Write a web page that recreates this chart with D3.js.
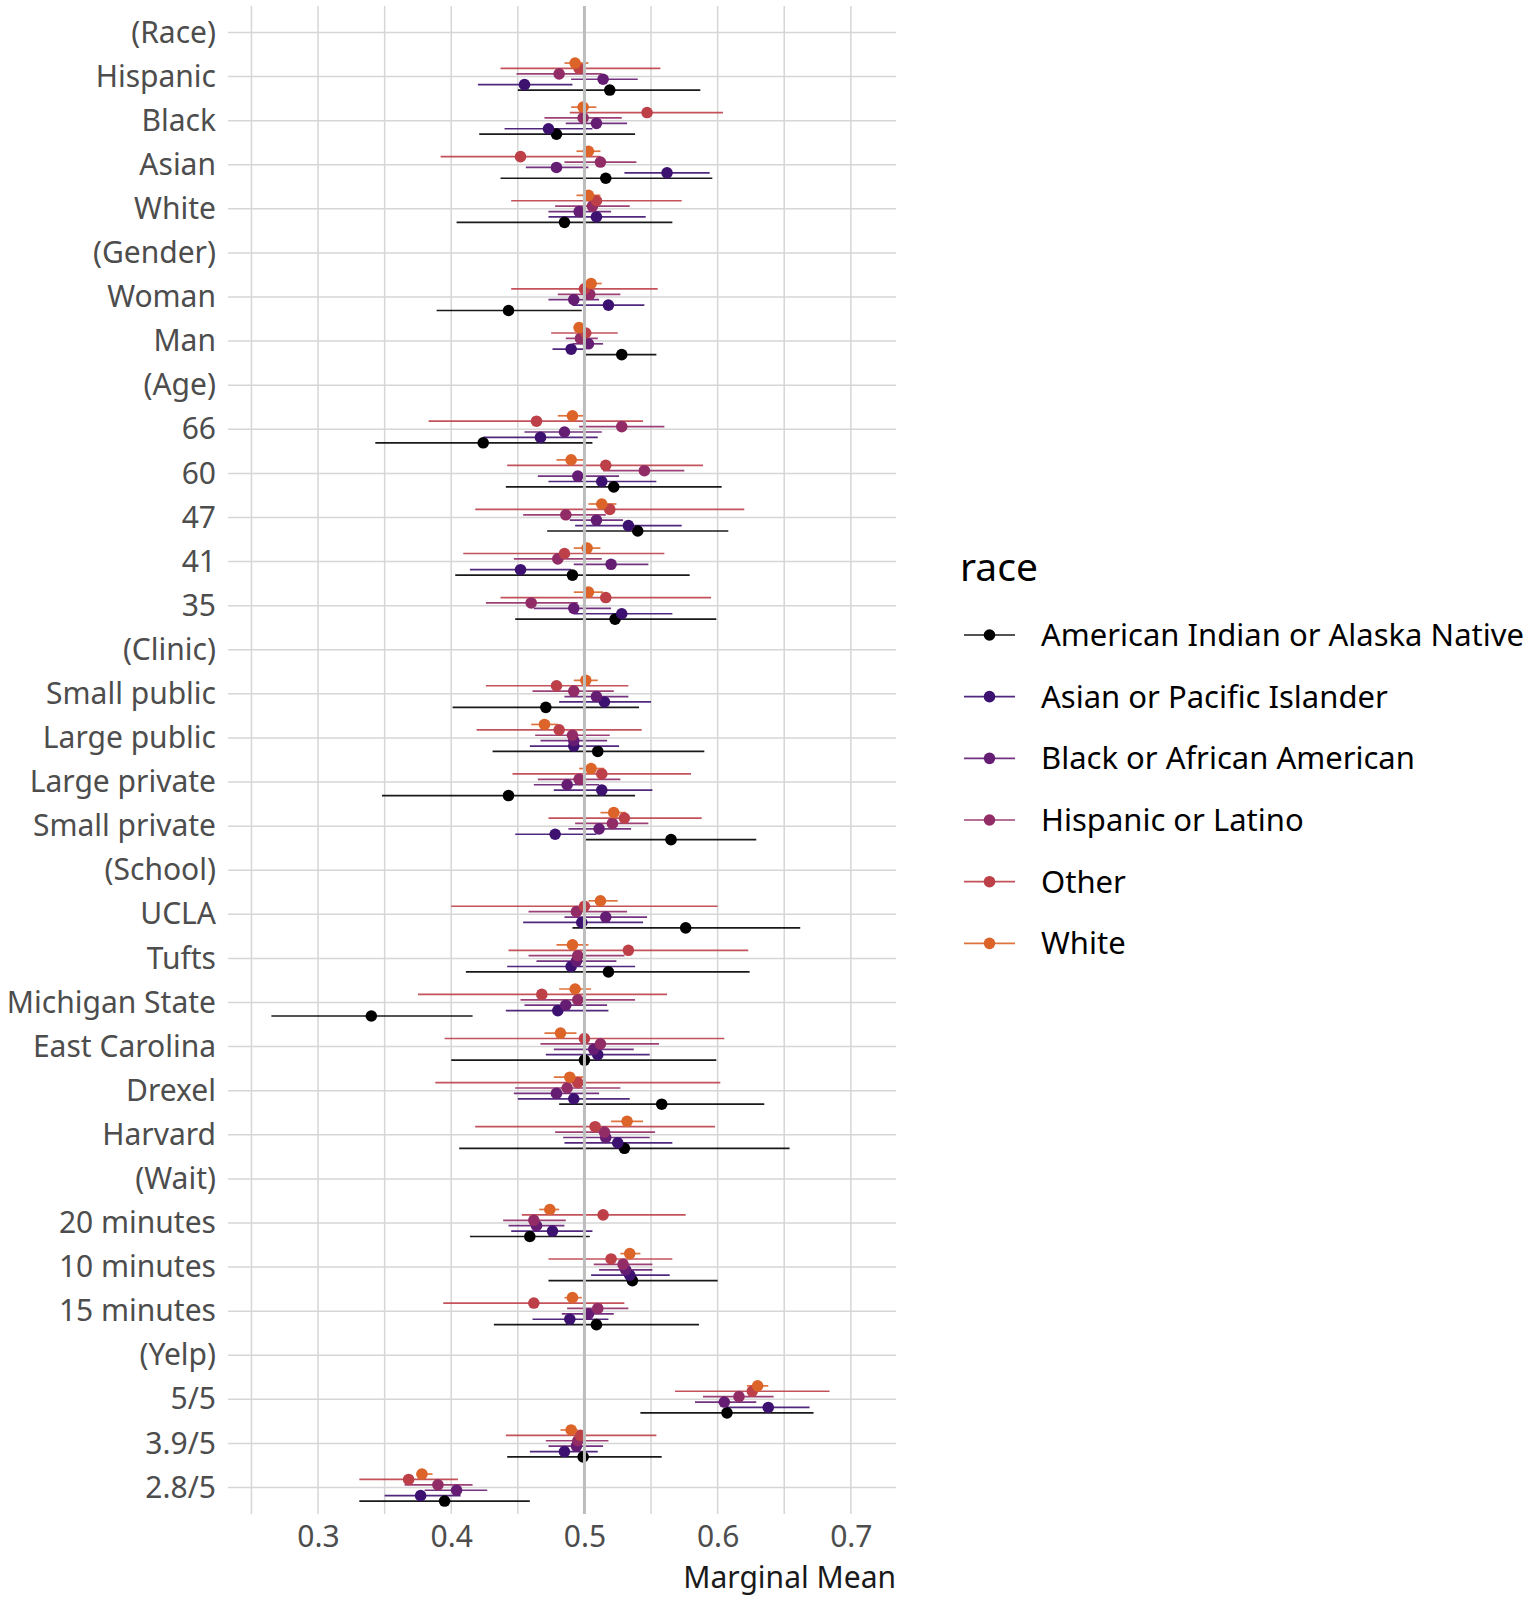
<!DOCTYPE html>
<html>
<head>
<meta charset="utf-8">
<script src="https://cdn.jsdelivr.net/npm/d3@7"></script>
<style>
  body { margin: 0; background: #fff; }
  text { font-family: "Noto Sans", sans-serif; }
</style>
</head>
<body>
<script>
// attribute levels, top to bottom
const levels = ["(Race)", "Hispanic", "Black", "Asian", "White", "(Gender)", "Woman", "Man",
  "(Age)", "66", "60", "47", "41", "35", "(Clinic)", "Small public", "Large public",
  "Large private", "Small private", "(School)", "UCLA", "Tufts", "Michigan State",
  "East Carolina", "Drexel", "Harvard", "(Wait)", "20 minutes", "10 minutes", "15 minutes",
  "(Yelp)", "5/5", "3.9/5", "2.8/5"];

const races = ["American Indian or Alaska Native", "Asian or Pacific Islander",
  "Black or African American", "Hispanic or Latino", "Other", "White"];
const raceColors = ["#000000", "#3d1170", "#641d72", "#912c66", "#bd4049", "#dc6429"];

const xTicks = [0.3, 0.4, 0.5, 0.6, 0.7];
const xGrid = [0.25, 0.3, 0.35, 0.4, 0.45, 0.5, 0.55, 0.6, 0.65, 0.7];

// marginal means and 95% intervals per race, in the order of `levels`
const aianEst = [null,.519,.479,.516,.485,null,.443,.528,null,.424,.522,.540,.491,.523,null,.471,.510,.443,.565,null,.576,.518,.340,.500,.558,.530,null,.459,.536,.509,null,.607,.499,.395];
const aianLo  = [null,.450,.421,.437,.404,null,.389,.501,null,.343,.441,.472,.403,.448,null,.401,.431,.348,.501,null,.491,.411,.265,.400,.481,.406,null,.414,.473,.432,null,.542,.442,.331];
const aianHi  = [null,.587,.538,.596,.566,null,.498,.554,null,.506,.603,.608,.579,.599,null,.541,.590,.538,.629,null,.662,.624,.416,.599,.635,.654,null,.504,.600,.586,null,.672,.558,.459];

const asianEst = [null,.455,.473,.562,.509,null,.518,.490,null,.467,.513,.533,.452,.528,null,.515,.492,.513,.478,null,.498,.490,.480,.510,.492,.525,null,.476,.534,.489,null,.638,.485,.377];
const asianLo  = [null,.420,.440,.530,.473,null,.491,.476,null,.424,.473,.493,.414,.492,null,.481,.459,.477,.448,null,.454,.442,.441,.471,.450,.485,null,.445,.505,.461,null,.606,.459,.350];
const asianHi  = [null,.491,.506,.594,.546,null,.545,.501,null,.510,.554,.573,.490,.566,null,.550,.526,.551,.509,null,.544,.538,.518,.549,.534,.566,null,.506,.564,.518,null,.669,.510,.407];

const blackEst = [null,.514,.509,.479,.496,null,.492,.503,null,.485,.495,.509,.520,.492,null,.509,.492,.487,.511,null,.516,.494,.486,.507,.479,.516,null,.464,.531,.503,null,.605,.494,.404];
const blackLo  = [null,.490,.486,.456,.473,null,.473,.491,null,.455,.465,.489,.492,.462,null,.485,.467,.462,.488,null,.485,.464,.455,.477,.447,.484,null,.443,.511,.483,null,.583,.473,.380];
const blackHi  = [null,.540,.532,.503,.520,null,.511,.514,null,.513,.526,.529,.548,.520,null,.533,.517,.511,.535,null,.547,.524,.517,.537,.511,.549,null,.485,.551,.522,null,.629,.514,.427];

const hispEst = [null,.481,.499,.512,.506,null,.504,.497,null,.528,.545,.486,.480,.460,null,.492,.491,.496,.521,null,.494,.495,.495,.512,.487,.515,null,.462,.529,.510,null,.616,.495,.390];
const hispLo  = [null,.449,.470,.485,.478,null,.480,.486,null,.496,.514,.454,.447,.426,null,.461,.463,.465,.493,null,.458,.458,.452,.467,.448,.478,null,.439,.507,.487,null,.589,.471,.365];
const hispHi  = [null,.513,.528,.539,.534,null,.527,.510,null,.560,.575,.516,.513,.495,null,.522,.519,.527,.548,null,.532,.530,.538,.556,.527,.553,null,.486,.551,.533,null,.642,.518,.416];

const otherEst = [null,.496,.547,.452,.509,null,.500,.501,null,.464,.516,.519,.485,.516,null,.479,.481,.513,.530,null,.500,.533,.468,.500,.495,.508,null,.514,.520,.462,null,.626,.497,.368];
const otherLo  = [null,.437,.489,.392,.445,null,.445,.475,null,.383,.442,.418,.409,.437,null,.426,.419,.446,.473,null,.400,.443,.375,.395,.388,.418,null,.453,.473,.394,null,.568,.441,.331];
const otherHi  = [null,.557,.604,.512,.573,null,.555,.525,null,.544,.589,.620,.560,.595,null,.533,.543,.580,.588,null,.600,.623,.562,.605,.602,.598,null,.576,.566,.530,null,.684,.554,.405];

const whiteEst = [null,.493,.499,.503,.503,null,.505,.496,null,.491,.490,.513,.502,.503,null,.501,.470,.505,.522,null,.512,.491,.493,.482,.489,.532,null,.474,.534,.491,null,.630,.490,.378];
const whiteLo  = [null,.485,.490,.494,.494,null,.499,.492,null,.480,.479,.503,.492,.492,null,.492,.460,.496,.512,null,.503,.479,.481,.470,.477,.520,null,.466,.527,.485,null,.622,.482,.374];
const whiteHi  = [null,.503,.509,.512,.512,null,.513,.500,null,.501,.501,.524,.512,.514,null,.510,.480,.515,.531,null,.525,.503,.505,.494,.501,.544,null,.481,.542,.498,null,.638,.495,.386];

const seriesEst = [aianEst, asianEst, blackEst, hispEst, otherEst, whiteEst];
const seriesLo = [aianLo, asianLo, blackLo, hispLo, otherLo, whiteLo];
const seriesHi = [aianHi, asianHi, blackHi, hispHi, otherHi, whiteHi];

// flatten into one record per point
var points = [];
for (var r = 0; r < races.length; r++) {
  for (var i = 0; i < levels.length; i++) {
    if (seriesEst[r][i] == null) continue;
    points.push({race: races[r], level: levels[i], est: seriesEst[r][i],
                 lo: seriesLo[r][i], hi: seriesHi[r][i]});
  }
}

const W = 1536, H = 1600;
const panel = {left: 228, right: 896, top: 6, bottom: 1514};
const dotR = 5.8;

const svg = d3.select("body").append("svg")
  .attr("width", W).attr("height", H);

const x = d3.scaleLinear().domain([0.2324, 0.7339]).range([panel.left, panel.right]);
const y = d3.scalePoint().domain(levels).range([panel.top, panel.bottom]).padding(0.6);
const dodge = d3.scalePoint().domain(races).range([13.5, -13.5]);
const color = d3.scaleOrdinal().domain(races).range(raceColors);

// grid
svg.append("g").selectAll("line")
  .data(xGrid).enter().append("line")
  .attr("x1", d => x(d)).attr("x2", d => x(d))
  .attr("y1", panel.top).attr("y2", panel.bottom)
  .attr("stroke", "#d6d6d6").attr("stroke-width", 1.5);
svg.append("g").selectAll("line")
  .data(levels).enter().append("line")
  .attr("x1", panel.left).attr("x2", panel.right)
  .attr("y1", d => y(d)).attr("y2", d => y(d))
  .attr("stroke", "#d6d6d6").attr("stroke-width", 1.5);

// intervals then points
svg.append("g").selectAll("line")
  .data(points).enter().append("line")
  .attr("x1", d => x(d.lo)).attr("x2", d => x(d.hi))
  .attr("y1", d => y(d.level) + dodge(d.race))
  .attr("y2", d => y(d.level) + dodge(d.race))
  .attr("stroke", d => color(d.race))
  .attr("stroke-opacity", 0.9)
  .attr("stroke-width", 1.7);
svg.append("g").selectAll("circle")
  .data(points).enter().append("circle")
  .attr("cx", d => x(d.est))
  .attr("cy", d => y(d.level) + dodge(d.race))
  .attr("r", dotR)
  .attr("fill", d => color(d.race));

// reference line at 0.5
svg.append("line")
  .attr("x1", x(0.5)).attr("x2", x(0.5))
  .attr("y1", panel.top).attr("y2", panel.bottom)
  .attr("stroke", "#bdbdbd").attr("stroke-width", 3);

// axes
const xAxis = svg.append("g")
  .attr("transform", "translate(0," + panel.bottom + ")")
  .call(d3.axisBottom(x).tickValues(xTicks).tickSize(0).tickPadding(12).tickFormat(d3.format(".1f")));
xAxis.select(".domain").remove();
xAxis.selectAll("text").attr("font-size", 30).attr("fill", "#4d4d4d")
  .attr("font-family", "Noto Sans, sans-serif");

const yAxis = svg.append("g")
  .attr("transform", "translate(" + panel.left + ",0)")
  .call(d3.axisLeft(y).tickSize(0).tickPadding(12));
yAxis.select(".domain").remove();
yAxis.selectAll("text").attr("font-size", 30).attr("fill", "#4d4d4d")
  .attr("font-family", "Noto Sans, sans-serif");

svg.append("text")
  .attr("x", panel.right).attr("y", 1577)
  .attr("dy", "0.35em")
  .attr("text-anchor", "end")
  .attr("font-size", 30).attr("fill", "#1a1a1a")
  .text("Marginal Mean");

// legend
const legend = svg.append("g");
legend.append("text")
  .attr("x", 960).attr("y", 567).attr("dy", "0.35em")
  .attr("font-size", 39).attr("fill", "#000")
  .text("race");
const item = legend.selectAll("g.item")
  .data(races).enter().append("g")
  .attr("class", "item")
  .attr("transform", (d, i) => "translate(0," + (635 + i * 61.67) + ")");
item.append("line")
  .attr("x1", 964).attr("x2", 1015)
  .attr("stroke", d => color(d)).attr("stroke-opacity", 0.9).attr("stroke-width", 1.7);
item.append("circle")
  .attr("cx", 989.5).attr("r", dotR)
  .attr("fill", d => color(d));
item.append("text")
  .attr("x", 1041).attr("dy", "0.35em")
  .attr("font-size", 31).attr("fill", "#000")
  .text(d => d);
</script>
</body>
</html>
